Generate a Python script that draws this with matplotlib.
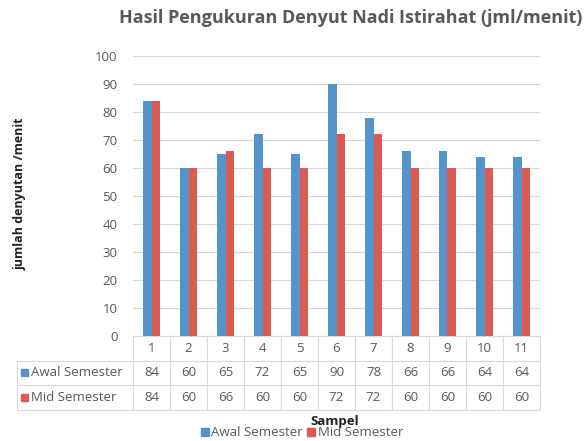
import numpy as np
import matplotlib.pyplot as plt
from matplotlib.patches import Patch, Rectangle

plt.rcParams['font.family'] = ['Open Sans', 'DejaVu Sans']

# data
samples = ['1', '2', '3', '4', '5', '6', '7', '8', '9', '10', '11']
awal = [84, 60, 65, 72, 65, 90, 78, 66, 66, 64, 64]
mid = [84, 60, 66, 60, 60, 72, 72, 60, 60, 60, 60]
series_names = ['Awal Semester', 'Mid Semester']
yticks = list(range(0, 101, 10))

blue = '#5594CB'
red = '#DB5B52'
grey = '#595959'
grid = '#D9D9D9'

W, H = 587, 441
fig = plt.figure(figsize=(W / 100, H / 100), dpi=100)
ax = fig.add_axes([133 / W, 1 - 336 / H, 407 / W, 280 / H])

x = np.arange(len(samples))
bw = 0.22
ax.bar(x - bw / 2, awal, bw, color=blue, zorder=3)
ax.bar(x + bw / 2, mid, bw, color=red, zorder=3)

ax.set_xlim(-0.5, len(samples) - 0.5)
ax.set_ylim(0, 100)
ax.set_yticks(yticks)
ax.grid(axis='y', color=grid, linewidth=0.8, zorder=0)
ax.tick_params(axis='y', length=0, pad=11, labelsize=9.5, labelcolor=grey)
ax.set_xticks([])
for s in ax.spines.values():
    s.set_visible(False)

# data table below the axes
cell_text = [[''] + samples,
             [''] + [str(v) for v in awal],
             [''] + [str(v) for v in mid]]
lab_w = 116 / 407
col_w = 37 / 407
tbl = ax.table(cellText=cell_text, cellLoc='center',
               colWidths=[lab_w] + [col_w] * len(samples),
               bbox=[-lab_w, -74 / 280, lab_w + col_w * len(samples), 74 / 280])
tbl.auto_set_font_size(False)
tbl.set_fontsize(9.5)
for (r, c), cell in tbl.get_celld().items():
    cell.set_edgecolor(grid)
    cell.set_linewidth(0.8)
    cell.get_text().set_color(grey)
    if r == 0 and c == 0:
        cell.visible_edges = ''

# row labels with colour keys
for i, (name, col) in enumerate(zip(series_names, [blue, red])):
    yc = -(24 + 12.5 + 25 * i) / 280
    ax.add_patch(Rectangle((-(133 - 21) / 407, yc - 3.5 / 280), 7 / 407, 7 / 280,
                           color=col, transform=ax.transAxes, clip_on=False))
    ax.text(-(133 - 31) / 407, yc, name, transform=ax.transAxes,
            ha='left', va='center', fontsize=9.5, color=grey)

fig.text(351 / W, 1 - 18 / H, 'Hasil Pengukuran Denyut Nadi Istirahat (jml/menit)',
         ha='center', va='center', fontsize=13, fontweight='bold', color=grey)
fig.text(20 / W, 1 - 194 / H, 'jumlah denyutan /menit', rotation=90,
         ha='center', va='center', fontsize=9, fontweight='bold', color='#222222')
fig.text(335 / W, 1 - 422 / H, 'Sampel', ha='center', va='center',
         fontsize=9.5, fontweight='bold', color='#222222')

handles = [Patch(color=blue, label=series_names[0]), Patch(color=red, label=series_names[1])]
leg = fig.legend(handles=handles, loc='center', bbox_to_anchor=(302 / W, 1 - 433 / H),
                 ncol=2, frameon=False, fontsize=9.5, handlelength=0.6, handleheight=0.6,
                 handletextpad=0.2, columnspacing=0.3)
for t in leg.get_texts():
    t.set_color(grey)

fig.savefig('out.png', dpi=100)
